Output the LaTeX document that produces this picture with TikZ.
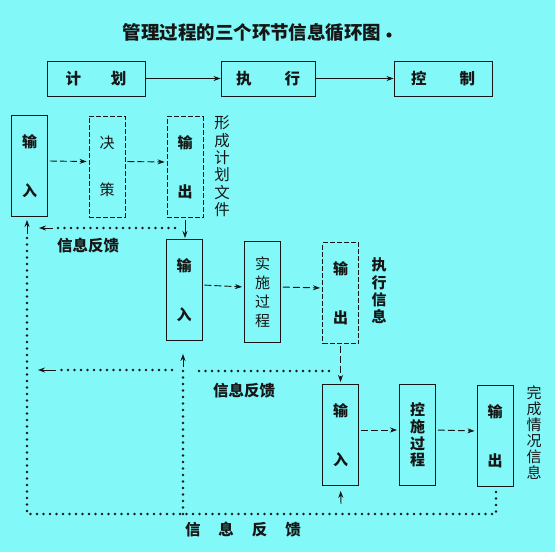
\documentclass[tikz,border=0pt]{standalone}
\usepackage{fontspec}
\newfontfamily\cjk{Noto Sans CJK SC}
\usetikzlibrary{arrows.meta}
\definecolor{bg}{RGB}{130,248,248}
\definecolor{ink}{RGB}{22,22,22}
\begin{document}
\begin{tikzpicture}[x=1pt,y=-1pt,
  box/.style={draw=ink,line width=0.9pt,minimum width=36pt,minimum height=101pt,inner sep=0pt,align=center,text=ink},
  dbox/.style={box,dash pattern=on 5pt off 2pt},
  tbox/.style={draw=ink,line width=0.9pt,minimum width=96pt,minimum height=35pt,inner sep=0pt,text=ink,font=\cjk\bfseries\fontsize{15.5}{18}\selectfont},
  two/.style={font=\cjk\bfseries\fontsize{15}{49}\selectfont},
  side/.style={text=ink,align=center,inner sep=0pt},
  flow/.style={draw=ink,line width=0.9pt,dash pattern=on 7pt off 3pt,-{Stealth[length=7pt,width=5pt]},shorten <=2pt,shorten >=2pt},
  sflow/.style={draw=ink,line width=0.9pt,-{Stealth[length=7pt,width=5pt]}},
  fb/.style={draw=ink,line width=2.9pt,line cap=round,dash pattern=on 0pt off 6.5pt},
  lbl/.style={text=ink,inner sep=0pt,font=\cjk\bfseries\fontsize{15.5}{18}\selectfont}
]
\fill[bg] (0,0) rectangle (555,552);
\useasboundingbox (0,0) rectangle (555,552);

% title
\node[text=ink,inner sep=0pt,font=\cjk\bfseries\fontsize{18.5}{20}\selectfont] (title) at (252,33) {管理过程的三个环节信息循环图};
\fill[ink] (389,35) circle (2.6pt);

% top row
\node[tbox,minimum width=98pt] (plan) at (96,78.5) {计\hspace{30pt}划};
\node[tbox,minimum width=94pt] (exec) at (268,78.5) {执\hspace{33pt}行};
\node[tbox,minimum width=98pt] (ctrl) at (443,78.5) {控\hspace{33pt}制};
\draw[sflow] (plan.east) -- (exec.west);
\draw[sflow] (exec.east) -- (ctrl.west);

% row 1
\node[box,two] (in1) at (29.5,166) {输\\入};
\node[dbox,font=\cjk\fontsize{15}{47}\selectfont] (dec) at (107,166.5) {决\\策};
\node[dbox,two] (out1) at (185,167) {输\\出};
\draw[flow] ([yshift=5pt]in1.east) -- ([yshift=5pt]dec.west);
\draw[flow] ([yshift=5pt]dec.east) -- ([yshift=5pt]out1.west);
\node[side,font=\cjk\fontsize{15.5}{17.4}\selectfont] (lab1) at (222,166.5) {形\\成\\计\\划\\文\\件};

% row 2
\node[box,two] (in2) at (184,290) {输\\入};
\node[box,font=\cjk\fontsize{15}{19}\selectfont] (impl) at (262.5,292) {实\\施\\过\\程};
\node[dbox,two] (out2) at (340.5,293) {输\\出};
\draw[flow] ([yshift=5pt]in2.east) -- ([yshift=5pt]impl.west);
\draw[flow] ([yshift=5pt]impl.east) -- ([yshift=5pt]out2.west);
\node[side,font=\cjk\bfseries\fontsize{15}{17.3}\selectfont] (lab2) at (379,291) {执\\行\\信\\息};

% row 3
\node[box,two] (in3) at (340.5,435) {输\\入};
\node[box,font=\cjk\bfseries\fontsize{15}{16.7}\selectfont] (ctl) at (417.5,435) {控\\施\\过\\程};
\node[box,two] (out3) at (495,436) {输\\出};
\draw[flow] ([yshift=5pt]in3.east) -- ([yshift=5pt]ctl.west);
\draw[flow] ([yshift=5pt]ctl.east) -- ([yshift=5pt]out3.west);
\node[side,font=\cjk\fontsize{15}{16}\selectfont] (lab3) at (534,433) {完\\成\\情\\况\\信\\息};

% vertical links
\draw[sflow,shorten <=2pt,shorten >=1pt] (out1.south) -- (out1.south |- in2.north);
\draw[flow] (out2.south) -- (out2.south |- in3.north);

% feedback 1
\coordinate (f1a) at (175,228);
\coordinate (f1b) at (53,228);
\coordinate (f1t) at (39,228);
\draw[fb] (f1a) -- (f1b);
\draw[sflow] (f1b) -- (f1t);
\node[lbl] (fbl1) at (88,246) {信息反馈};

% feedback 2
\coordinate (f2a) at (329,371);
\coordinate (f2b) at (197,371);
\coordinate (f2c) at (172,370);
\coordinate (f2d) at (56,370);
\coordinate (f2t) at (38,370);
\draw[fb] (f2a) -- (f2b);
\draw[fb] (f2c) -- (f2d);
\draw[sflow] (f2d) -- (f2t);
\node[lbl] (fbl2) at (244,391) {信息反馈};

% bottom feedback loop
\coordinate (b1) at (496,492);
\coordinate (b2) at (496,514);
\coordinate (b3) at (27,514);
\coordinate (b4) at (27,234);
\draw[fb] (b1) -- (b2) -- (b3) -- (b4);
\draw[sflow,shorten >=3pt] (b4) -- (in1.south -| b4);
\coordinate (v1) at (183,514);
\coordinate (v2) at (183,367);
\draw[fb] (v1) -- (v2);
\draw[sflow,shorten >=13pt] (v2) -- (in2.south -| v2);
\coordinate (v3) at (341,504);
\draw[sflow,shorten >=5pt] (v3) -- (in3.south);
\node[lbl] (fbl3) at (243,530) {信\hspace{18pt}息\hspace{18pt}反\hspace{18pt}馈};
\end{tikzpicture}
\end{document}
